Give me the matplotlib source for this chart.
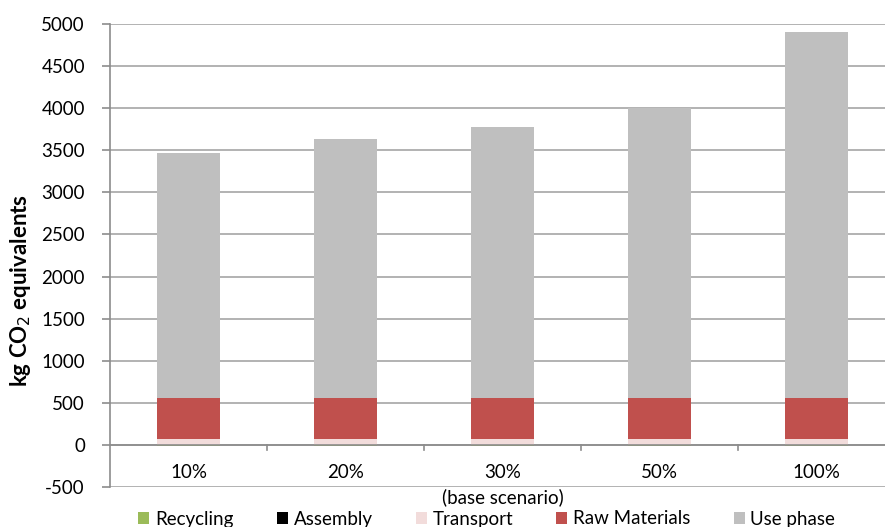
import numpy as np
import matplotlib.pyplot as plt

plt.rcParams['font.family'] = ['Lato', 'DejaVu Sans']
plt.rcParams['axes.unicode_minus'] = False

# values (kg CO2 eq.)
scenarios = ['10%', '20%', '30%', '50%', '100%']
recycling = [-15, -15, -15, -15, -15]
assembly = [3, 3, 3, 3, 3]
transport = [72, 72, 72, 72, 72]
raw_materials = [483, 483, 483, 483, 483]
use_phase = [2912, 3078, 3220, 3445, 4347]

x = np.arange(len(scenarios))
w = 0.4
fs = 13.5

fig = plt.figure(figsize=(8.85, 5.27), dpi=100)
ax = fig.add_axes([110/885, 1-487/527, 785/885, 463/527])

ax.bar(x, recycling, w, color='#9BBB59', label='Recycling', zorder=3)
b = np.zeros(len(x))
ax.bar(x, assembly, w, bottom=b, color='black', label='Assembly', zorder=3)
b = b + assembly
ax.bar(x, transport, w, bottom=b, color='#F2DCDB', label='Transport', zorder=3)
b = b + transport
ax.bar(x, raw_materials, w, bottom=b, color='#C0504D', label='Raw Materials', zorder=3)
b = b + raw_materials
ax.bar(x, use_phase, w, bottom=b, color='#BFBFBF', label='Use phase', zorder=3)

ax.set_ylim(-500, 5000)
ax.set_yticks(np.arange(-500, 5001, 500))
ax.set_xlim(-0.5, len(x)-0.5)
ax.yaxis.grid(True, color='#A6A6A6', linewidth=1.2, zorder=0)
ax.set_axisbelow(True)

for s in ['top', 'right', 'bottom']:
    ax.spines[s].set_visible(False)
ax.spines['left'].set_color('#8C8C8C')
ax.spines['left'].set_linewidth(1.2)
ax.tick_params(axis='y', length=6, width=1.2, color='#8C8C8C', labelsize=fs, pad=12)

# category axis sits at zero with ticks between categories
ax.axhline(0, color='#8C8C8C', linewidth=1.2, zorder=4)
ax.set_xticks([])
for xb in np.arange(0.5, len(x)-0.5, 1):
    ax.plot([xb, xb], [0, -60], color='#8C8C8C', linewidth=1.2, zorder=4, clip_on=False)
for xi, lab in zip(x, scenarios):
    ax.text(xi, -325, lab, ha='center', va='center', fontsize=fs)
ax.text(2, -625, '(base scenario)', ha='center', va='center', fontsize=fs, clip_on=False)

ax.set_ylabel(r'kg CO$_2$ equivalents', fontsize=16, fontweight='bold')
ax.yaxis.set_label_coords(-0.098, 0.425)

fig.legend(loc='center', bbox_to_anchor=(0.55, 1 - 519/527), ncol=5,
           frameon=False, fontsize=fs, handlelength=0.6, handleheight=0.6,
           columnspacing=2.3, handletextpad=0.3)

plt.savefig('out.png', dpi=100)
